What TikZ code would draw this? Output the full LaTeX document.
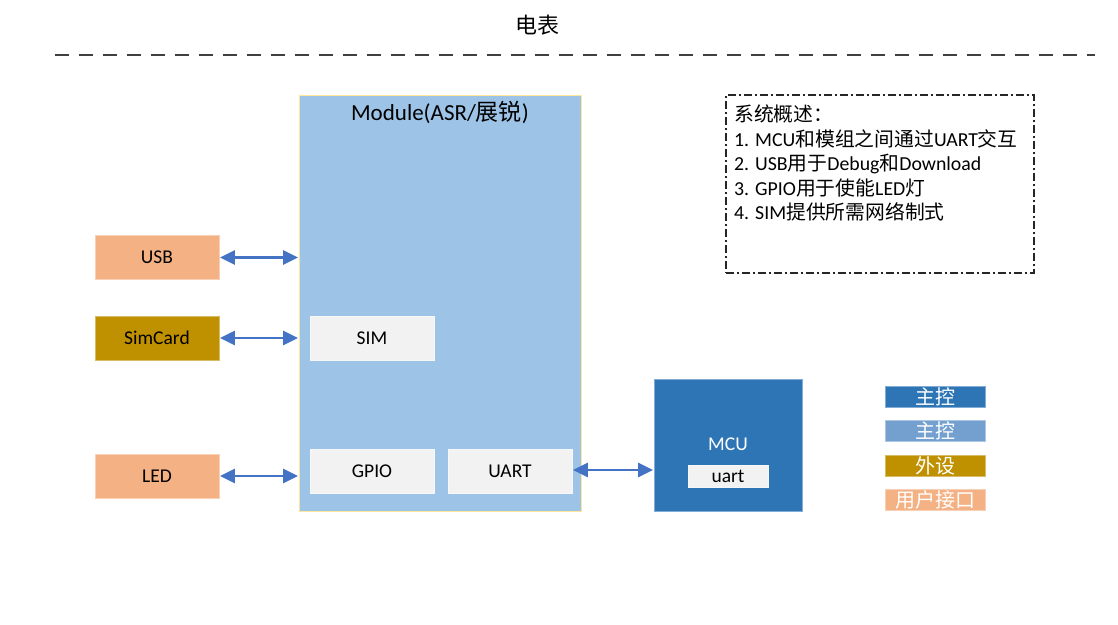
\documentclass[tikz,border=0pt]{standalone}
\usepackage{fontspec}
\setmainfont{Carlito}
\newfontfamily\cjk{Noto Sans CJK SC}
\newcommand{\zh}[1]{{\cjk #1}}
\usetikzlibrary{arrows.meta,calc,positioning}
\definecolor{modblue}{HTML}{9DC3E6}
\definecolor{mcublue}{HTML}{2E75B6}
\definecolor{midblue}{HTML}{74A0D0}
\definecolor{simgold}{HTML}{BF9000}
\definecolor{peach}{HTML}{F4B183}
\definecolor{cellgray}{HTML}{F2F2F2}
\definecolor{arrowblue}{HTML}{4472C4}
\definecolor{modedge}{HTML}{FFE699}
\tikzset{
    myblock/.style={fill=#1,draw=#1!60!white,line width=0.8pt,minimum width=124pt,minimum height=44pt,inner sep=0pt,font=\fontsize{19.5}{22}\selectfont},
    mycell/.style={myblock=cellgray},
    mylegend/.style={fill=#1,draw=#1!60!white,line width=0.8pt,minimum width=100pt,minimum height=21pt,inner sep=0pt,text=white,font=\cjk\fontsize{20}{21}\selectfont},
    myarrow/.style={{Triangle[length=15pt,width=14pt]}-{Triangle[length=15pt,width=14pt]},draw=arrowblue,line width=2.4pt,shorten <=0.5pt,shorten >=0.5pt}
}
\begin{document}
\begin{tikzpicture}[x=1pt,y=-1pt]
  \useasboundingbox (0,0) rectangle (1118,624);

  % 标题与分隔线
  \node[font=\cjk\fontsize{22}{24}\selectfont] (title) at (537,25) {电表};
  \coordinate (L1) at (55,55);
  \coordinate (L2) at (1095,55);
  \draw[black!75,line width=2pt,dash pattern=on 14pt off 10pt] (L1) -- (L2);

  % 模组
  \node[fill=modblue,draw=modedge,line width=0.8pt,minimum width=282pt,minimum height=416pt,inner sep=0pt] (mod) at (440,303) {};
  \node[font=\fontsize{23}{25}\selectfont] (modlabel) at (440,112) {Module(ASR/\zh{展锐})};
  \node[mycell] (sim) at (372,338) {SIM};
  \node[mycell] (gpio) at (372,471) {GPIO};
  \node[mycell] (uart) at (510,471) {UART};

  % 外部接口
  \node[myblock=peach] (usb) at (157,257.5) {USB};
  \node[myblock=simgold] (simcard) at (157,338) {SimCard};
  \node[myblock=peach] (led) at (157,476) {LED};

  % MCU
  \node[fill=mcublue,draw=mcublue!60!white,line width=0.8pt,minimum width=148pt,minimum height=132pt,inner sep=0pt] (mcu) at (728,445) {};
  \node[text=white,font=\fontsize{19.5}{22}\selectfont] (mculabel) at (728,444) {MCU};
  \node[mycell,minimum width=80pt,minimum height=22pt] (mcuuart) at (728,476) {uart};

  % 连接
  \draw[myarrow] (usb.east) -- (usb.east -| mod.west);
  \draw[myarrow] (simcard.east) -- (simcard.east -| mod.west);
  \draw[myarrow] (led.east) -- (led.east -| mod.west);
  \draw[myarrow] ($(uart.east)+(0,-1)$) -- ($(uart.east -| mcu.west)+(0,-1)$);

  % 图例
  \node[mylegend=mcublue] (lg1) at (935,396.5) {主控};
  \node[mylegend=midblue] (lg2) at (935,431) {主控};
  \node[mylegend=simgold] (lg3) at (935,465.5) {外设};
  \node[mylegend=peach] (lg4) at (935,499.5) {用户接口};

  % 系统概述
  \node[draw=black!85,line width=1.2pt,dash pattern=on 8pt off 3pt on 2pt off 3pt,minimum width=308pt,minimum height=178pt,inner sep=0pt] (note) at (880,184) {};
  \node[anchor=north west,align=left,inner sep=0pt,font=\fontsize{19.8}{24.5}\selectfont] (notetext) at (734,105)
    {\zh{系统概述：}\\
     1. MCU\zh{和模组之间通过}UART\zh{交互}\\
     2. USB\zh{用于}Debug\zh{和}Download\\
     3. GPIO\zh{用于使能}LED\zh{灯}\\
     4. SIM\zh{提供所需网络制式}};
\end{tikzpicture}
\end{document}
